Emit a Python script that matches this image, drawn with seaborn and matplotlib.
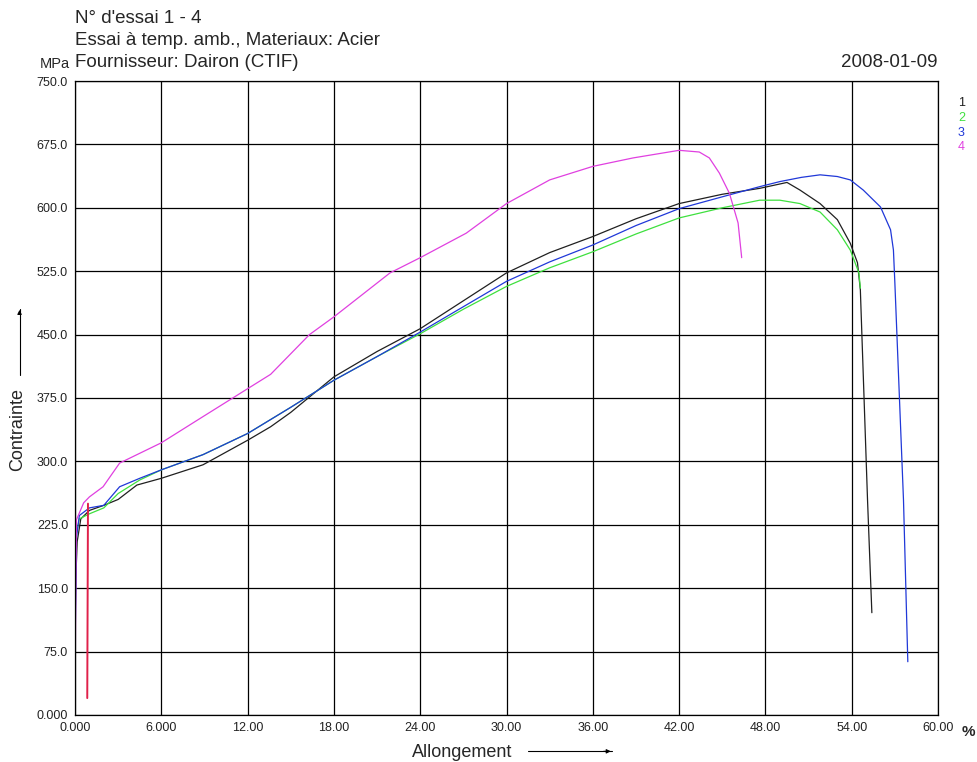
import numpy as np
import pandas as pd
import seaborn as sns
import matplotlib.pyplot as plt

# courbes contrainte / allongement
x1 = [0.0, 0.05, 0.15, 0.4, 1.0, 2.0, 3.0, 4.3, 6.0, 8.9, 12.0, 13.6, 15.0, 18.0, 21.0, 24.0, 27.0,
      30.0, 33.0, 36.0, 39.0, 42.0, 45.0, 47.6, 49.5, 50.4, 51.8, 53.0, 53.9, 54.4, 54.6, 55.1, 55.4]
y1 = [100, 160, 205, 232, 242, 248, 255, 272, 280, 296, 325, 341, 358, 400, 430, 457, 490,
      523, 547, 566, 587, 605, 616, 623, 630, 621, 605, 586, 558, 535, 503, 254, 121]

x2 = [0.0, 0.1, 0.3, 1.0, 2.0, 3.0, 4.5, 6.0, 8.9, 12.0, 15.0, 18.0, 21.0, 24.0, 27.0, 30.0,
      33.0, 36.0, 39.0, 42.0, 45.0, 47.6, 49.0, 50.4, 51.8, 53.0, 53.9, 54.5, 54.6]
y2 = [150, 215, 232, 238, 245, 262, 278, 290, 308, 333, 364, 396, 424, 451, 480, 507,
      529, 548, 569, 588, 600, 609, 609, 605, 595, 574, 550, 523, 505]

x3 = [0.0, 0.1, 0.3, 1.0, 2.0, 3.1, 4.5, 6.0, 8.9, 12.0, 15.0, 18.0, 21.0, 24.0, 27.0, 30.0,
      33.0, 36.0, 39.0, 42.0, 45.0, 47.6, 49.0, 50.5, 51.8, 53.0, 53.9, 54.8, 56.0, 56.7,
      56.9, 57.0, 57.6, 57.9]
y3 = [77, 210, 236, 245, 248, 270, 280, 290, 308, 333, 364, 396, 424, 453, 483, 513,
      536, 556, 579, 599, 613, 625, 631, 636, 639, 637, 633, 621, 601, 574,
      550, 511, 254, 63]

x4 = [0.0, 0.05, 0.1, 0.6, 1.0, 1.95, 3.1, 6.0, 8.9, 12.0, 13.6, 16.3, 18.0, 21.9, 24.0, 27.2,
      30.0, 33.0, 36.0, 38.8, 42.0, 43.4, 44.1, 44.8, 45.5, 46.1, 46.35]
y4 = [14, 150, 231, 251, 258, 270, 298, 322, 353, 386, 403, 450, 471, 523, 541, 570,
      605, 633, 649, 659, 668, 666, 659, 641, 617, 582, 541]

# trait rouge (retrait extensometre)
x_red = [0.85, 0.9]
y_red = [20, 250]

essais = ["1", "2", "3", "4"]
couleurs = ["#202020", "#3ee03e", "#2038d8", "#e040e0"]

x_ticks = [0, 6, 12, 18, 24, 30, 36, 42, 48, 54, 60]
x_labels = ["0.000", "6.000", "12.00", "18.00", "24.00", "30.00", "36.00", "42.00", "48.00", "54.00", "60.00"]
y_ticks = [0, 75, 150, 225, 300, 375, 450, 525, 600, 675, 750]
y_labels = ["0.000", "75.0", "150.0", "225.0", "300.0", "375.0", "450.0", "525.0", "600.0", "675.0", "750.0"]

frames = []
for e, xs, ys in zip(essais, [x1, x2, x3, x4], [y1, y2, y3, y4]):
    frames.append(pd.DataFrame({"allongement": xs, "contrainte": ys, "essai": e}))
df = pd.concat(frames, ignore_index=True)

sns.set_style("white")
plt.rcParams['font.family'] = ['Liberation Sans', 'DejaVu Sans']

fig = plt.figure(figsize=(9.77, 7.62), dpi=100)
ax = fig.add_axes([0.0768, 0.0617, 0.8833, 0.832])

sns.lineplot(data=df, x="allongement", y="contrainte", hue="essai", palette=couleurs,
             sort=False, estimator=None, legend=False, linewidth=0.9, ax=ax)
sns.lineplot(x=x_red, y=y_red, color="#e0204a", sort=False, estimator=None, linewidth=1.4, ax=ax)

ax.set_xlim(0, 60)
ax.set_ylim(0, 750)
ax.set_xticks(x_ticks)
ax.set_xticklabels(x_labels)
ax.set_yticks(y_ticks)
ax.set_yticklabels(y_labels)
ax.tick_params(labelsize=9, length=0, pad=5, colors="#222222")
ax.grid(True, color="black", linewidth=0.9)
for s in ax.spines.values():
    s.set_color("black")
    s.set_linewidth(0.9)
ax.set_xlabel("")
ax.set_ylabel("")

# titres
fig.text(0.0768, 0.976, "N° d'essai 1 - 4", fontsize=13.5, va="center")
fig.text(0.0768, 0.947, "Essai à temp. amb., Materiaux: Acier", fontsize=13.5, va="center")
fig.text(0.0768, 0.918, "Fournisseur: Dairon (CTIF)", fontsize=13.5, va="center")
fig.text(0.960, 0.918, "2008-01-09", fontsize=13.5, va="center", ha="right")
fig.text(0.072, 0.916, "MPa", fontsize=10.5, va="center", ha="right")
fig.text(0.991, 0.040, "%", fontsize=11, fontweight="bold", va="center", ha="center")

# legende numerotee
for i, (e, c) in enumerate(zip(essais, couleurs)):
    fig.text(0.984, 0.865 - i * 0.0195, e, color=c, fontsize=9, va="center", ha="center")

# axes titres avec fleches
fig.text(0.473, 0.012, "Allongement", fontsize=13, va="center", ha="center")
fig.add_artist(plt.Line2D([0.54, 0.626], [0.014, 0.014], color="black", linewidth=0.8))
ax.annotate("", xy=(0.628, 0.014), xytext=(0.615, 0.014), xycoords="figure fraction",
            arrowprops=dict(arrowstyle="-|>", color="black", lw=0.8, mutation_scale=6))
fig.text(0.018, 0.436, "Contrainte", fontsize=13, va="center", ha="center", rotation=90)
fig.add_artist(plt.Line2D([0.020, 0.020], [0.508, 0.594], color="black", linewidth=0.8))
ax.annotate("", xy=(0.020, 0.597), xytext=(0.020, 0.585), xycoords="figure fraction",
            arrowprops=dict(arrowstyle="-|>", color="black", lw=0.8, mutation_scale=6))

fig.savefig("out.png", dpi=100)
